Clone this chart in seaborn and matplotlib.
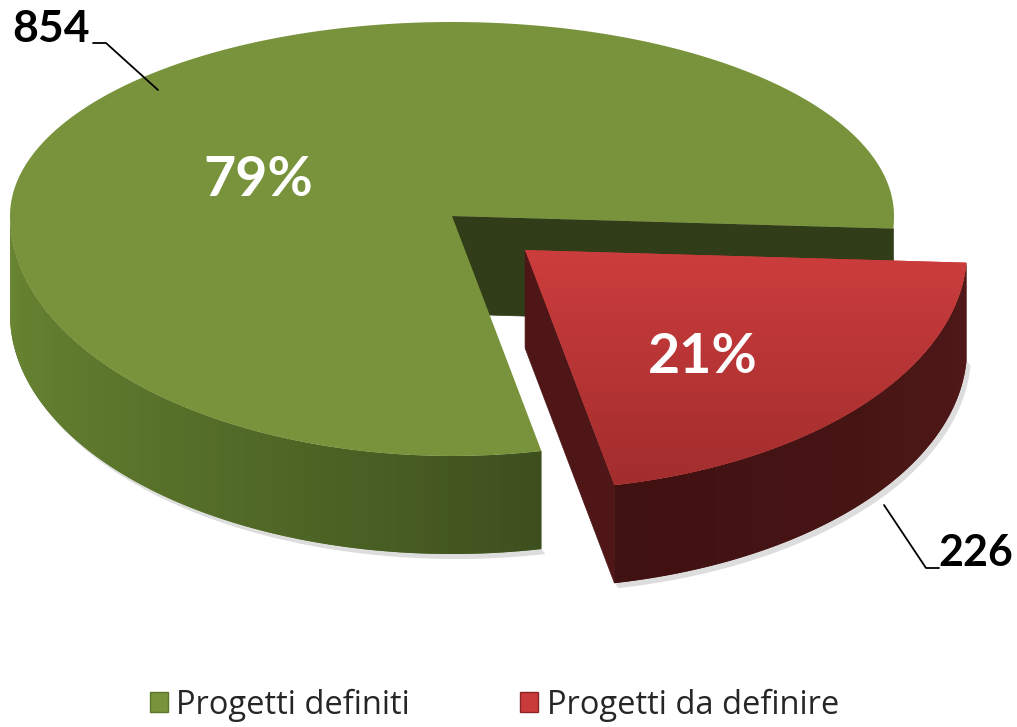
import numpy as np
import matplotlib.pyplot as plt
import seaborn as sns
from matplotlib.patches import Patch, Polygon
from matplotlib.colors import to_rgb

# data
categories = ['Progetti definiti', 'Progetti da definire']
counts = [854, 226]
pct_labels = ['79%', '21%']
explode = [0.0, 0.218]

sns.set_theme(style='white')
plt.rcParams['font.family'] = ['Lato', 'DejaVu Sans']

fig = plt.figure(figsize=(10.17, 7.27), dpi=100)
ax = fig.add_axes([0, 0, 1, 1])
ax.set_xlim(0, 1017)
ax.set_ylim(727, 0)
ax.axis('off')

# 3d pie geometry, in pixel units
cx, cy = 452, 216
a, b_back, b_front = 442, 194, 240
depth = 98
start = -3

top_cols = ['#78933B', '#C93B3B']
cut_cols = ['#313D18', '#4E1616']
wall_anchors = [
    ([180, 220, 255, 282], ['#6B8733', '#5C772C', '#4C6225', '#3E4F1E']),
    ([281, 320, 357], ['#401111', '#481515', '#521919']),
]


def rim(x0, y0, th):
    th = np.radians(th)
    b = np.where(np.sin(th) > 0, b_back, b_front)
    return x0 + a * np.cos(th), y0 - b * np.sin(th)


def wall_color(i, th):
    pos, cols = wall_anchors[i]
    rgb = np.array([to_rgb(c) for c in cols])
    return np.stack([np.interp(th, pos, rgb[:, k]) for k in range(3)], axis=-1)


fracs = np.array(counts) / sum(counts)
edges = start + 360 * np.concatenate([[0], np.cumsum(fracs)])

for i in range(len(counts)):
    t1, t2 = edges[i], edges[i + 1]
    mid = np.radians((t1 + t2) / 2)
    x0 = cx + explode[i] * a * np.cos(mid)
    y0 = cy - explode[i] * (b_front if np.sin(mid) < 0 else b_back) * np.sin(mid)

    # visible cut face
    ex, ey = rim(x0, y0, t1)
    ax.add_patch(Polygon([[x0, y0], [ex, ey], [ex, ey + depth], [x0, y0 + depth]],
                         closed=True, fc=cut_cols[i], ec=cut_cols[i], lw=0.5, zorder=2 * i + 1))

    # front wall (angles between 180 and 360) with horizontal shading
    lo, hi = max(t1, 180), min(t2, 360)
    if lo < hi:
        ths = np.linspace(lo, hi, 300)
        xs, ys = rim(x0, y0, ths)
        sh = np.concatenate([np.c_[xs + 4, ys + depth + 5], np.c_[xs[::-1], ys[::-1] + depth]])
        ax.add_patch(Polygon(sh, closed=True, fc='#dddddd', ec='none', zorder=0))
        wall = Polygon(np.concatenate([np.c_[xs, ys], np.c_[xs[::-1], ys[::-1] + depth]]),
                       closed=True, fc=wall_color(i, (lo + hi) / 2), ec='none', zorder=2 * i + 1)
        ax.add_patch(wall)
        gx = np.linspace(xs.min(), xs.max(), 400)
        gth = 360 - np.degrees(np.arccos(np.clip((gx - x0) / a, -1, 1)))
        img = wall_color(i, gth)[None, :, :]
        im = ax.imshow(img, extent=[xs.min(), xs.max(), ys.max() + depth, ys.min()],
                       origin='upper', aspect='auto', zorder=2 * i + 1, interpolation='bilinear')
        im.set_clip_path(wall)

    # top face
    ths = np.linspace(t1, t2, 400)
    xs, ys = rim(x0, y0, ths)
    pts = np.vstack([[x0, y0], np.c_[xs, ys]])
    top = Polygon(pts, closed=True, fc=top_cols[i], ec='none', zorder=2 * i + 2)
    ax.add_patch(top)
    if i == 1:
        grad = np.linspace(0, 1, 256)[:, None, None]
        top_rgb = np.array(to_rgb('#CD3D3D'))
        bot_rgb = np.array(to_rgb('#A22D2D'))
        img = top_rgb * (1 - grad) + bot_rgb * grad
        img = np.repeat(img, 2, axis=1)
        im = ax.imshow(img, extent=[min(xs.min(), x0) - 2, xs.max() + 2, ys.max() + 2, min(ys.min(), y0) - 2],
                       origin='upper', aspect='auto', zorder=2 * i + 2, interpolation='bilinear')
        im.set_clip_path(top)

# percentage labels
ax.text(258, 180, pct_labels[0], color='white', fontsize=40, fontweight='bold',
        ha='center', va='center', zorder=10)
ax.text(703, 357, pct_labels[1], color='white', fontsize=40, fontweight='bold',
        ha='center', va='center', zorder=10)

# value labels with leader lines
ax.plot([93, 106, 158], [43, 43, 90], color='black', lw=1.3, zorder=10)
ax.text(12, 29, str(counts[0]), fontsize=32, fontweight='bold', color='black',
        ha='left', va='center', zorder=10)
ax.plot([884, 926, 939], [505, 568, 568], color='black', lw=1.3, zorder=10)
ax.text(938, 553, str(counts[1]), fontsize=31, fontweight='bold', color='black',
        ha='left', va='center', zorder=10)

# legend
handles = [Patch(facecolor='#78933B', edgecolor='#5C772C'),
           Patch(facecolor='#C93B3B', edgecolor='#8A2525')]
ax.legend(handles, categories, loc='center', bbox_to_anchor=(0.486, 0.03), ncol=2,
          frameon=False, handlelength=0.55, handleheight=0.55,
          handletextpad=0.25, columnspacing=3.4,
          prop={'family': ['Open Sans', 'DejaVu Sans'], 'size': 23.5})

fig.savefig('out.png', dpi=100)
